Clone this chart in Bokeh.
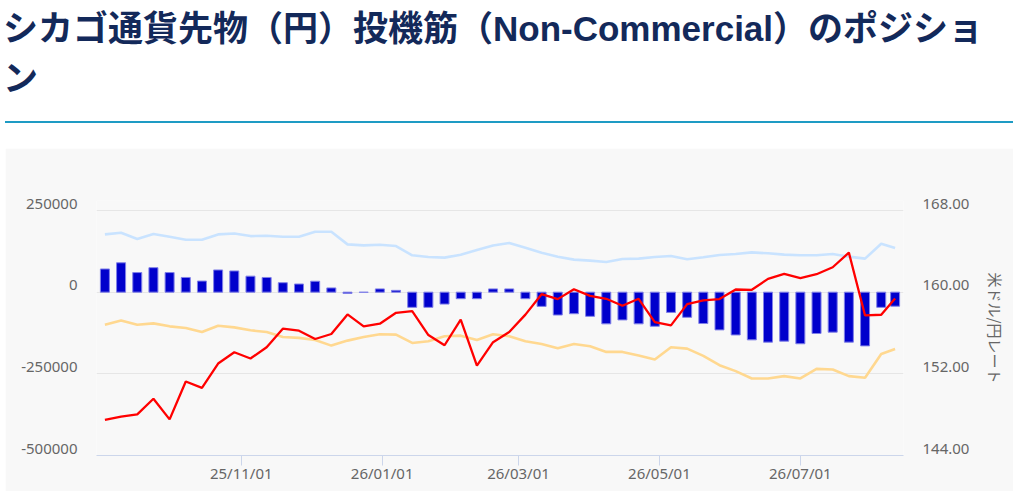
import pandas as pd
from bokeh.plotting import figure
from bokeh.models import (ColumnDataSource, LinearAxis, Range1d, FixedTicker,
                          DatetimeTickFormatter, Div)
from bokeh.layouts import column
from bokeh.embed import file_html
from bokeh.resources import INLINE

title_text = "シカゴ通貨先物（円）投機筋（Non-Commercial）のポジショ"
title_tail = "ン"
right_axis_title = "米ドル/円レート"

dates = [
    "2025-09-03", "2025-09-10", "2025-09-17", "2025-09-24",
    "2025-10-01", "2025-10-08", "2025-10-15", "2025-10-22", "2025-10-29",
    "2025-11-05", "2025-11-12", "2025-11-19", "2025-11-26",
    "2025-12-03", "2025-12-10", "2025-12-17", "2025-12-24", "2025-12-31",
    "2026-01-07", "2026-01-14", "2026-01-21", "2026-01-28",
    "2026-02-04", "2026-02-11", "2026-02-18", "2026-02-25",
    "2026-03-04", "2026-03-11", "2026-03-18", "2026-03-25",
    "2026-04-01", "2026-04-08", "2026-04-15", "2026-04-22", "2026-04-29",
    "2026-05-06", "2026-05-13", "2026-05-20", "2026-05-27",
    "2026-06-03", "2026-06-10", "2026-06-17", "2026-06-24",
    "2026-07-01", "2026-07-08", "2026-07-15", "2026-07-22", "2026-07-29",
    "2026-08-05", "2026-08-11",
]

net = [
    71000, 90000, 60000, 75000, 60000, 45000, 34000, 68000, 65000, 49000,
    45000, 29000, 25000, 33500, 13000, -4000, -500, 10000, 5500, -46500,
    -46500, -36500, -20000, -20000, 10000, 10000, -20000, -43500, -70000, -66000,
    -74000, -97000, -85000, -97000, -104500, -62000, -77000, -96000, -115500, -131000,
    -146000, -153000, -150000, -158000, -126500, -122500, -153000, -164500, -46500, -43000,
]

long_pos = [
    176800, 181900, 162600, 177800, 169700, 160500, 160500, 176800, 179800, 171700,
    172700, 169700, 169700, 184900, 184900, 146300, 143300, 145300, 141200, 112800,
    107700, 105700, 114800, 129000, 143000, 150400, 136100, 120900, 108700, 99600,
    96500, 92500, 101600, 102600, 107700, 110700, 100600, 106700, 113800, 116800,
    121900, 118900, 114800, 112800, 112800, 116800, 108700, 102600, 148300, 135100,
]

short_pos = [
    -99600, -86400, -99600, -95500, -104600, -109700, -121900, -102600, -107700, -116800,
    -121900, -137200, -140000, -146300, -163600, -148300, -137200, -129000, -130000, -155400,
    -150400, -135100, -133100, -146300, -129000, -135100, -150400, -158500, -171700, -158500,
    -165600, -182900, -182900, -194100, -206200, -168700, -172700, -195000, -223500, -241800,
    -264200, -264200, -257000, -264200, -234700, -236700, -257000, -262100, -189000, -173700,
]

rate = [
    147.48, 147.80, 148.03, 149.56, 147.54, 151.25, 150.63, 153.01, 154.11, 153.50,
    154.60, 156.42, 156.23, 155.41, 155.90, 157.82, 156.65, 156.91, 157.98, 158.15,
    155.80, 154.80, 157.30, 152.81, 155.10, 156.10, 157.80, 159.80, 159.32, 160.29,
    159.64, 159.35, 158.67, 159.35, 157.07, 156.75, 158.83, 159.19, 159.32, 160.26,
    160.23, 161.30, 161.79, 161.37, 161.76, 162.44, 163.87, 157.72, 157.79, 159.38,
]

x_tick_dates = ["2025-11-01", "2026-01-01", "2026-03-01", "2026-05-01", "2026-07-01"]
left_ticks = [-500000, -250000, 0, 250000]
left_labels = ["-500000", "-250000", "0", "250000"]
right_ticks = [144, 152, 160, 168]
right_labels = ["144.00", "152.00", "160.00", "168.00"]

DAY_MS = 86400000.0
dt = pd.to_datetime(dates)
x_ms = [t.value / 1e6 for t in dt]
src = ColumnDataSource(dict(x=x_ms, net=net, long=long_pos, short=short_pos, rate=rate))

# vertical layout (pixels): gridded span, empty headroom above it, label lift
SPAN_PX = 245
HEADROOM_PX = 10
LABEL_LIFT_PX = 7

pos_lo, pos_top_tick = -500000, 250000
rate_lo, rate_top_tick = 144, 168
pos_per_px = (pos_top_tick - pos_lo) / SPAN_PX
rate_per_px = (rate_top_tick - rate_lo) / SPAN_PX
pos_hi = pos_top_tick + HEADROOM_PX * pos_per_px
rate_hi = rate_top_tick + HEADROOM_PX * rate_per_px
lift_pos = LABEL_LIFT_PX * pos_per_px
lift_rate = LABEL_LIFT_PX * rate_per_px

pad = 3.64 * DAY_MS
p = figure(
    width=1008, height=343,
    x_axis_type="datetime",
    x_range=Range1d(x_ms[0] - pad, x_ms[-1] + pad),
    y_range=Range1d(pos_lo, pos_hi),
    y_axis_location=None,
    output_backend="svg", toolbar_location=None,
    min_border_left=91, min_border_right=110,
    min_border_top=62 - HEADROOM_PX, min_border_bottom=36,
    background_fill_color="#f8f8f8", border_fill_color="#f8f8f8",
    margin=(0, 0, 0, 5),
)
p.outline_line_color = None
p.extra_y_ranges = {
    "rate": Range1d(rate_lo, rate_hi),
    "pos_labels": Range1d(pos_lo - lift_pos, pos_hi - lift_pos),
    "rate_labels": Range1d(rate_lo - lift_rate, rate_hi - lift_rate),
}

p.ygrid.ticker = FixedTicker(ticks=left_ticks)
p.ygrid.grid_line_color = "#e6e6e6"
p.ygrid.grid_line_width = 1
p.xgrid.visible = False

p.vbar(x="x", top="net", bottom=0, width=3.9 * DAY_MS, source=src,
       fill_color="#0000cc", line_color="#8080e8", line_width=1)
p.line(x="x", y="long", source=src, line_color="#c9e3ff", line_width=2.6)
p.line(x="x", y="short", source=src, line_color="#ffd890", line_width=2.6)
p.line(x="x", y="rate", source=src, y_range_name="rate", line_color="#ff0000", line_width=2.3)

label_font = "Noto Sans"
label_color = "#666666"

xa = p.xaxis[0]
xa.ticker = FixedTicker(ticks=[pd.Timestamp(d).value / 1e6 for d in x_tick_dates])
xa.formatter = DatetimeTickFormatter(days="%y/%m/%d", months="%y/%m/%d", years="%y/%m/%d",
                                     hours="%y/%m/%d", minutes="%y/%m/%d")
xa.axis_line_color = "#ccd6eb"
xa.major_tick_line_color = "#ccd6eb"
xa.major_tick_out = 10
xa.major_tick_in = 0
xa.minor_tick_line_color = None
xa.major_label_standoff = -3
xa.major_label_text_font = label_font
xa.major_label_text_font_size = "15px"
xa.major_label_text_color = label_color


def value_axis(range_name, ticks, labels, side):
    ax = LinearAxis(y_range_name=range_name, ticker=FixedTicker(ticks=ticks))
    ax.major_label_overrides = {t: s for t, s in zip(ticks, labels)}
    ax.axis_line_color = None
    ax.major_tick_line_color = None
    ax.minor_tick_line_color = None
    ax.major_tick_out = 0
    ax.major_tick_in = 0
    ax.major_label_standoff = 19
    ax.major_label_text_font = label_font
    ax.major_label_text_font_size = "15px"
    ax.major_label_text_color = label_color
    p.add_layout(ax, side)
    return ax


value_axis("pos_labels", left_ticks, left_labels, "left")
ra = value_axis("rate_labels", right_ticks, right_labels, "right")
ra.axis_label = right_axis_title
ra.axis_label_text_font = "Noto Sans CJK JP"
ra.axis_label_text_font_size = "15px"
ra.axis_label_text_font_style = "normal"
ra.axis_label_text_color = label_color
ra.axis_label_standoff = 13

html = (
    '<div style="position:relative;width:1013px;height:148px;">'
    '<div style="position:absolute;left:3px;top:4px;white-space:nowrap;'
    "font-family:'Liberation Sans','Noto Sans CJK JP',sans-serif;font-weight:bold;"
    'font-size:35px;line-height:50px;color:#13295a;">'
    + title_text + '<br>' + title_tail +
    '</div>'
    '<div style="position:absolute;left:5px;top:121px;width:1008px;height:2px;background:#1e9bc4;"></div>'
    '</div>'
)
title_div = Div(text=html, width=1013, height=148, margin=(0, 0, 0, 0))

layout = column(title_div, p, spacing=0, margin=(0, 0, 0, 0))
open("out.html", "w").write(file_html(layout, INLINE))
